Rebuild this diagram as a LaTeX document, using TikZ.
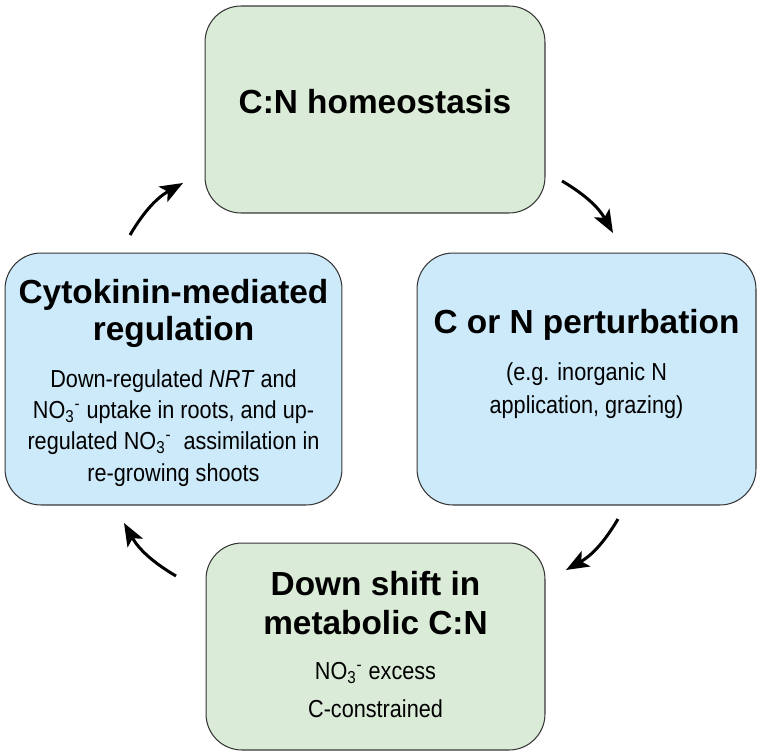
\documentclass[tikz,border=0pt]{standalone}
\usepackage{fontspec}
\setmainfont{Liberation Sans}
\newfontfamily\narrowsans[FakeStretch=0.88]{Liberation Sans}
\usetikzlibrary{arrows.meta}
\definecolor{boxgreen}{RGB}{218,236,215}
\definecolor{boxblue}{RGB}{205,234,250}
\definecolor{boxline}{RGB}{55,55,55}
\newcommand{\nitrate}{NO\textsubscript{3}\textsuperscript{-}}
\tikzset{
	cyclebox/.style={draw=boxline, line width=0.6pt, rounded corners=0.72cm, inner sep=0pt},
	titletext/.style={font=\bfseries\fontsize{19}{#1}\selectfont, align=center, anchor=base},
	titletext/.default=21,
	subtext/.style={font=\narrowsans\fontsize{14}{#1}\selectfont, align=center, anchor=base},
	subtext/.default=18,
	cyclearrow/.style={-{Stealth[length=13pt,width=10pt,inset=3pt]}, line width=1.7pt, bend left=15}
}
\begin{document}
\begin{tikzpicture}[x=0.02cm,y=-0.02cm]
		\useasboundingbox (0,0) rectangle (760,754);
		\node[cyclebox, fill=boxgreen, minimum width=6.8cm, minimum height=4.14cm] (homeo) at (375,109.5) {};
		\node[cyclebox, fill=boxblue, minimum width=6.78cm, minimum height=5.04cm] (perturb) at (586.5,379) {};
		\node[cyclebox, fill=boxgreen, minimum width=6.78cm, minimum height=4.14cm] (shift) at (375.5,646.5) {};
		\node[cyclebox, fill=boxblue, minimum width=6.74cm, minimum height=5.04cm] (cytok) at (173.5,379) {};
			\node[titletext] (homeotitle) at (375,113) {C:N homeostasis};
			\node[titletext] (perturbtitle) at (586.5,333) {C or N perturbation};
			\node[subtext=18.7] (perturbsub) at (586.5,413) {(e.g. inorganic N\\application, grazing)};
			\node[titletext=22] (shifttitle) at (375.5,634) {Down shift in\\metabolic C:N};
			\node[subtext=21.5] (shiftsub) at (375.5,717) {\nitrate{} excess\\C-constrained};
			\node[titletext=21] (cytoktitle) at (173.5,340) {Cytokinin-mediated\\regulation};
			\node[subtext=17.8] (cytoksub) at (173.5,481) {Down-regulated \textit{NRT} and\\\nitrate{} uptake in roots, and up-\\regulated \nitrate{}~\ assimilation in\\re-growing shoots};
		\coordinate (homeoout) at (562,181);
		\coordinate (perturbin) at (613,233);
		\coordinate (perturbout) at (618,519);
		\coordinate (shiftin) at (566,570);
		\coordinate (shiftout) at (176,576);
		\coordinate (cytokin) at (124,523);
		\coordinate (cytokout) at (130,235);
		\coordinate (homeoin) at (183,183);
			\draw[cyclearrow] (homeoout) to (perturbin);
			\draw[cyclearrow] (perturbout) to (shiftin);
			\draw[cyclearrow] (shiftout) to (cytokin);
			\draw[cyclearrow] (cytokout) to (homeoin);
	\end{tikzpicture}
\end{document}
